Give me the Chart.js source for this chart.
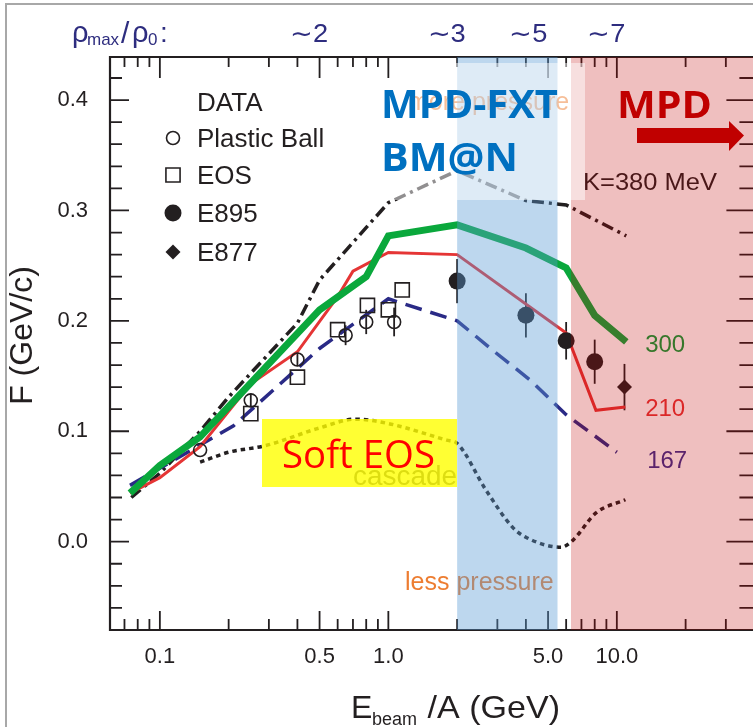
<!DOCTYPE html>
<html>
<head>
<meta charset="utf-8">
<script src="https://cdn.jsdelivr.net/npm/chart.js@4.4.0/dist/chart.umd.min.js"></script>
<style>
  html, body { margin: 0; padding: 0; background: #fff; overflow: hidden; }
  #wrap { position: relative; width: 753px; height: 727px; overflow: hidden; }
  #frame { position: absolute; left: 5px; top: 3px; width: 800px; height: 800px;
           border-left: 2px solid #a8a8a8; border-top: 2px solid #a8a8a8; }
  canvas { position: absolute; left: 0; top: 0; }
</style>
</head>
<body>
<div id="wrap">
  <div id="frame"></div>
  <canvas id="flow" width="766" height="727"></canvas>
</div>
<script>
// beam energy per nucleon (GeV) -> sideward flow F (GeV/c)
const plasticBallE = [0.15, 0.25, 0.4, 0.65, 0.8, 1.06];
const plasticBallF = [0.083, 0.128, 0.165, 0.187, 0.199, 0.199];
const plasticBallErr = [0, 0.006, 0.006, 0.009, 0.011, 0.013];

const eosE = [0.25, 0.4, 0.6, 0.81, 1.0, 1.15];
const eosF = [0.116, 0.149, 0.192, 0.214, 0.21, 0.228];

const e895E = [2.0, 4.0, 6.0, 8.0];
const e895F = [0.236, 0.205, 0.182, 0.163];
const e895Err = [0.02, 0.02, 0.017, 0.02];

const e877E = [10.8];
const e877F = [0.14];
const e877Err = [0.021];

// model curves, labelled by incompressibility K (MeV)
const k380E = [0.075, 0.1, 0.15, 0.2, 0.4, 0.5, 1.0, 2.0, 4.0, 6.0, 11];
const k380F = [0.04, 0.062, 0.1, 0.131, 0.198, 0.237, 0.307, 0.336, 0.309, 0.305, 0.277];

const k300E = [0.074, 0.1, 0.15, 0.5, 0.8, 1.0, 2.0, 4.0, 6.0, 8.0, 11];
const k300F = [0.044, 0.069, 0.095, 0.21, 0.24, 0.277, 0.287, 0.266, 0.248, 0.205, 0.181];

const k210E = [0.074, 0.1, 0.15, 0.25, 0.4, 0.6, 0.7, 1.0, 2.0, 6.0, 8.1, 10.9];
const k210F = [0.044, 0.058, 0.086, 0.143, 0.172, 0.222, 0.245, 0.262, 0.26, 0.189, 0.119, 0.122];

const k167E = [0.074, 0.21, 0.5, 1.0, 2.0, 3.0, 4.2, 6.0, 10];
const k167F = [0.051, 0.105, 0.175, 0.22, 0.2, 0.17, 0.146, 0.115, 0.081];

const cascadeE = [0.15, 0.2, 0.29, 0.5, 0.72, 1.0, 1.8, 2.0, 2.67, 3.5, 4.0, 5.7, 6.4, 8.1, 10.9];
const cascadeF = [0.072, 0.081, 0.087, 0.103, 0.111, 0.107, 0.092, 0.089, 0.047, 0.013, 0.004, -0.005, 0.001, 0.026, 0.038];

const xTickVals = [0.1, 0.5, 1, 5, 10];
const xTickLabels = ['0.1', '0.5', '1.0', '5.0', '10.0'];
const yTickVals = [0, 0.1, 0.2, 0.3, 0.4];
const yTickLabels = ['0.0', '0.1', '0.2', '0.3', '0.4'];

// max density reached, shown along the top
const densityE = [0.45, 1.8, 4.1, 9.0];
const densityLabels = ['\u223c2', '\u223c3', '\u223c5', '\u223c7'];

// facility energy ranges
const fxtRange = [2.0, 5.5];
const mpdFrom = 6.3;

const ink = '#231f20';
const sans = '"Liberation Sans", Arial, sans-serif';
const open = '"Open Sans", sans-serif';

function pts(xs, ys) {
  return xs.map((v, i) => ({ x: v, y: ys[i] }));
}

function text(ctx, s, x, y, font, color, align) {
  ctx.font = font;
  ctx.fillStyle = color;
  ctx.textAlign = align || 'left';
  ctx.textBaseline = 'alphabetic';
  ctx.fillText(s, x, y);
}

// text squeezed/stretched to a given width
function fitText(ctx, s, x, y, w, font, color) {
  ctx.save();
  ctx.font = font;
  const k = w / ctx.measureText(s).width;
  ctx.translate(x, y);
  ctx.scale(k, 1);
  text(ctx, s, 0, 0, font, color);
  ctx.restore();
}

const errorBars = {
  id: 'errorBars',
  beforeDatasetsDraw(chart) {
    const { ctx, scales: { x, y } } = chart;
    ctx.save();
    ctx.strokeStyle = ink;
    ctx.lineWidth = 1.8;
    chart.data.datasets.forEach(ds => {
      if (!ds.errors) return;
      ds.data.forEach((p, i) => {
        const e = ds.errors[i];
        if (!e) return;
        const px = x.getPixelForValue(p.x);
        ctx.beginPath();
        ctx.moveTo(px, y.getPixelForValue(p.y - e));
        ctx.lineTo(px, y.getPixelForValue(p.y + e));
        ctx.stroke();
      });
    });
    ctx.restore();
  }
};

const decorations = {
  id: 'decorations',
  afterDatasetsDraw(chart) {
    const { ctx, chartArea: a, scales: { x, y } } = chart;
    ctx.save();

    // frame + inward ticks
    ctx.strokeStyle = ink;
    ctx.lineWidth = 2.2;
    ctx.beginPath();
    ctx.moveTo(a.right + 10, a.top);
    ctx.lineTo(a.left, a.top);
    ctx.lineTo(a.left, a.bottom);
    ctx.lineTo(a.right + 10, a.bottom);
    ctx.stroke();
    ctx.lineWidth = 1.8;
    ctx.beginPath();
    for (let d = -2; d <= 1; d++) {
      for (let m = 1; m <= 9; m++) {
        const v = m * Math.pow(10, d);
        if (v < x.min || v > x.max) continue;
        const major = xTickVals.some(t => Math.abs(t - v) < 1e-9);
        const px = x.getPixelForValue(v);
        ctx.moveTo(px, a.bottom); ctx.lineTo(px, a.bottom - (major ? 19 : 11));
        ctx.moveTo(px, a.top); ctx.lineTo(px, a.top + (major ? 21 : 10));
      }
    }
    for (let k = -4; k <= 21; k++) {
      const v = k * 0.02;
      const major = k % 5 === 0;
      const py = y.getPixelForValue(v);
      ctx.moveTo(a.left, py); ctx.lineTo(a.left + (major ? 19 : 12), py);
      ctx.moveTo(a.right, py); ctx.lineTo(a.right - (major ? 28 : 15), py);
    }
    ctx.stroke();

    // curve labels
    const lx = x.getPixelForValue(13.3);
    text(ctx, '300', lx, y.getPixelForValue(0.18) + 9, '24px ' + sans, '#0a9f3a');
    text(ctx, '210', lx, y.getPixelForValue(0.122) + 9, '24px ' + sans, '#e53535');
    text(ctx, '167', lx + 2, y.getPixelForValue(0.075) + 9, '24px ' + sans, '#3a2f8f');
    fitText(ctx, 'K=380 MeV', 583, 190, 134, '24px ' + sans, ink);
    text(ctx, 'less pressure', 405, 590, '25px ' + sans, '#ed7d31');
    text(ctx, 'more pressure', 408, 110, '25px ' + sans, '#ed7d31');
    fitText(ctx, 'cascade', 353, 485, 104, '27px ' + sans, '#555');

    // energy ranges of the two facilities
    const fx0 = x.getPixelForValue(fxtRange[0]);
    const fx1 = x.getPixelForValue(fxtRange[1]);
    ctx.fillStyle = 'rgba(91,155,213,0.4)';
    ctx.fillRect(fx0, a.top, fx1 - fx0, a.bottom - a.top);
    const mx0 = x.getPixelForValue(mpdFrom);
    ctx.fillStyle = 'rgba(192,0,0,0.25)';
    ctx.fillRect(mx0, a.top, a.right - mx0 + 10, a.bottom - a.top);

    // translucent boxes
    ctx.fillStyle = 'rgba(255,255,255,0.5)';
    ctx.fillRect(392, 63, 193, 137);
    ctx.fillStyle = 'rgba(255,255,0,0.8)';
    ctx.fillRect(262, 419, 195, 68);

    fitText(ctx, 'Soft EOS', 282, 468, 153, '39px ' + open, '#ff0000');
    fitText(ctx, 'MPD-FXT', 381, 118, 177, 'bold 39px ' + open, '#0070c0');
    fitText(ctx, 'BM@N', 381, 171, 137, 'bold 39px ' + open, '#0070c0');
    fitText(ctx, 'MPD', 617, 118, 95, 'bold 37px ' + open, '#c00000');

    ctx.fillStyle = '#c00000';
    ctx.fillRect(637, 128, 92, 15);
    ctx.beginPath();
    ctx.moveTo(729, 121); ctx.lineTo(744, 135.5); ctx.lineTo(729, 151);
    ctx.closePath();
    ctx.fill();

    // legend
    text(ctx, 'DATA', 197, 111, '26px ' + sans, ink);
    const legendY = [138, 175, 213, 252];
    chart.data.datasets.slice(0, 4).forEach((ds, i) => {
      ctx.strokeStyle = ink;
      ctx.fillStyle = ds.pointBackgroundColor;
      ctx.lineWidth = ds.pointBorderWidth;
      Chart.helpers.drawPoint(ctx, {
        pointStyle: ds.pointStyle, radius: ds.pointRadius, rotation: 0,
        borderWidth: ds.pointBorderWidth
      }, 173, legendY[i]);
      text(ctx, ds.label, 197, legendY[i] + 9, '26px ' + sans, ink);
    });
    ctx.restore();
  },
  afterDraw(chart) {
    const { ctx, chartArea: a, scales: { x } } = chart;
    ctx.save();
    const navy = '#2e2d7f';
    text(ctx, '\u03c1', 72, 42, '29px ' + sans, navy);
    text(ctx, 'max', 87, 45, '17px ' + sans, navy);
    text(ctx, '/', 121, 43, '30px ' + sans, navy);
    text(ctx, '\u03c1', 132, 42, '29px ' + sans, navy);
    text(ctx, '0', 148, 45, '17px ' + sans, navy);
    text(ctx, ':', 160, 42, '28px ' + sans, navy);
    densityE.forEach((v, i) => {
      fitText(ctx, densityLabels[i], x.getPixelForValue(v) - 19, 42, 38, '25px ' + sans, navy);
    });

    // axis titles
    text(ctx, 'E', 351, 718, '32px ' + sans, ink);
    text(ctx, 'beam', 372, 725, '18px ' + sans, ink);
    fitText(ctx, ' /A (GeV)', 418, 718, 142, '32px ' + sans, ink);
    ctx.translate(32, (a.top + a.bottom) / 2 - 8);
    ctx.rotate(-Math.PI / 2);
    text(ctx, 'F (GeV/c)', 0, 0, '32px ' + sans, ink, 'center');
    ctx.restore();
  }
};

new Chart(document.getElementById('flow'), {
  type: 'line',
  data: {
    datasets: [
      { label: 'Plastic Ball', data: pts(plasticBallE, plasticBallF), errors: plasticBallErr,
        showLine: false, pointStyle: 'circle', pointRadius: 6.5, pointBorderWidth: 1.6,
        pointBorderColor: ink, pointBackgroundColor: 'rgba(0,0,0,0)' },
      { label: 'EOS', data: pts(eosE, eosF),
        showLine: false, pointStyle: 'rect', pointRadius: 10, pointBorderWidth: 1.6,
        pointBorderColor: ink, pointBackgroundColor: 'rgba(0,0,0,0)' },
      { label: 'E895', data: pts(e895E, e895F), errors: e895Err,
        showLine: false, pointStyle: 'circle', pointRadius: 8.5, pointBorderWidth: 0,
        pointBorderColor: ink, pointBackgroundColor: ink },
      { label: 'E877', data: pts(e877E, e877F), errors: e877Err,
        showLine: false, pointStyle: 'rectRot', pointRadius: 7.5, pointBorderWidth: 0,
        pointBorderColor: ink, pointBackgroundColor: ink },
      { label: 'K=300', data: pts(k300E, k300F), borderColor: '#0aa83c', borderWidth: 7,
        pointRadius: 0, fill: false },
      { label: 'K=210', data: pts(k210E, k210F), borderColor: '#e53535', borderWidth: 3,
        pointRadius: 0, fill: false },
      { label: 'K=167', data: pts(k167E, k167F), borderColor: '#2a2a86', borderWidth: 3.5,
        borderDash: [17, 9], pointRadius: 0, fill: false },
      { label: 'K=380', data: pts(k380E, k380F), borderColor: ink, borderWidth: 3.5,
        borderDash: [12, 5, 3, 5], pointRadius: 0, fill: false },
      { label: 'cascade', data: pts(cascadeE, cascadeF), borderColor: ink, borderWidth: 3.5,
        borderDash: [4.5, 4], cubicInterpolationMode: 'monotone', pointRadius: 0, fill: false }
    ]
  },
  options: {
    responsive: false,
    animation: false,
    devicePixelRatio: 1,
    events: [],
    layout: { padding: { top: 57, right: 0, left: 0, bottom: 0 } },
    plugins: { legend: { display: false }, tooltip: { enabled: false } },
    scales: {
      x: {
        type: 'logarithmic', min: 0.0605, max: 40, bounds: 'data',
        grid: { display: false, drawTicks: false },
        border: { display: false },
        afterBuildTicks: s => { s.ticks = xTickVals.map(v => ({ value: v })); },
        afterFit: s => { s.height = 97; },
        ticks: {
          autoSkip: false, maxRotation: 0, padding: 14, color: ink,
          font: { family: 'Liberation Sans', size: 22 },
          callback: (v, i) => xTickLabels[i]
        }
      },
      y: {
        type: 'linear', min: -0.08, max: 0.439, bounds: 'data',
        grid: { display: false, drawTicks: false },
        border: { display: false },
        afterBuildTicks: s => { s.ticks = yTickVals.map(v => ({ value: v })); },
        afterFit: s => { s.width = 110; },
        ticks: {
          autoSkip: false, padding: 22, color: ink,
          font: { family: 'Liberation Sans', size: 22 },
          callback: (v, i) => yTickLabels[i]
        }
      }
    }
  },
  plugins: [errorBars, decorations]
});
</script>
</body>
</html>
